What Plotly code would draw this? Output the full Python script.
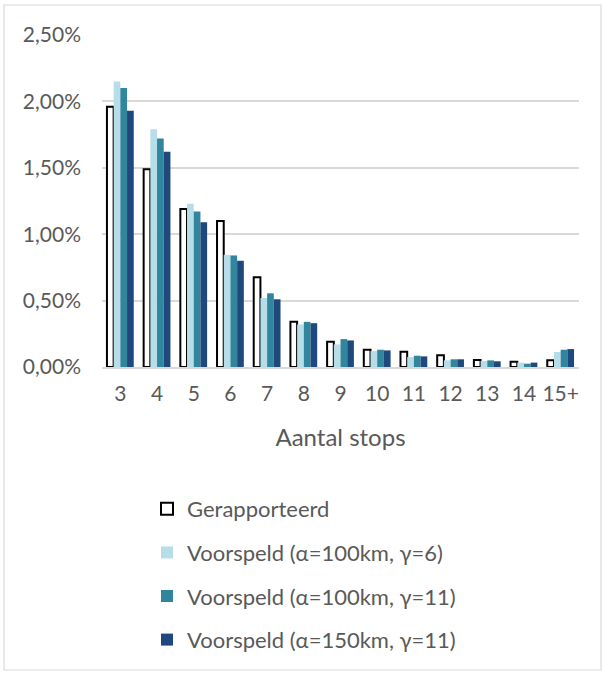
import plotly.graph_objects as go

categories = ["3", "4", "5", "6", "7", "8", "9", "10", "11", "12", "13", "14", "15+"]
gerapporteerd = [0.0196, 0.0149, 0.0119, 0.0110, 0.00675, 0.0034, 0.0019, 0.0013, 0.00115, 0.00088, 0.00053, 0.0004, 0.0005]
voorspeld_100_6 = [0.0215, 0.0179, 0.0123, 0.00845, 0.0052, 0.0032, 0.0017, 0.0012, 0.00075, 0.0005, 0.00045, 0.00033, 0.00113]
voorspeld_100_11 = [0.0210, 0.0172, 0.0117, 0.0084, 0.00555, 0.0034, 0.0021, 0.0013, 0.00085, 0.00058, 0.0005, 0.00025, 0.0013]
voorspeld_150_11 = [0.0193, 0.0162, 0.0109, 0.0080, 0.0051, 0.0033, 0.0020, 0.00125, 0.0008, 0.00058, 0.00043, 0.00033, 0.00135]

names = ["Gerapporteerd", "Voorspeld (α=100km, γ=6)", "Voorspeld (α=100km, γ=11)", "Voorspeld (α=150km, γ=11)"]
FONT = "Lato"
TXT = "#595959"

fig = go.Figure()
fig.add_trace(go.Bar(x=categories, y=gerapporteerd, name=names[0], legendgroup="a",
                     marker=dict(color="white", line=dict(color="black", width=2))))
fig.add_trace(go.Bar(x=categories, y=voorspeld_100_6, name=names[1], legendgroup="b",
                     marker=dict(color="#b7dde8", line=dict(width=0))))
fig.add_trace(go.Bar(x=categories, y=voorspeld_100_11, name=names[2], legendgroup="c",
                     marker=dict(color="#31859c", line=dict(width=0))))
fig.add_trace(go.Bar(x=categories, y=voorspeld_150_11, name=names[3], legendgroup="d",
                     marker=dict(color="#1f497d", line=dict(width=0))))

L, R, T, B = 102, 25, 35, 308
W, H = 604, 675
pw = W - L - R
ph = H - T - B

def px_x(p):
    return (p - L) / pw

def px_y(p):
    return (H - B - p) / ph

fig.update_layout(
    width=W, height=H,
    margin=dict(l=L, r=R, t=T, b=B, autoexpand=False),
    paper_bgcolor="white", plot_bgcolor="white",
    barmode="group", bargap=0.27, bargroupgap=0,
    separators=", ",
    font=dict(family=FONT, size=20, color=TXT),
    showlegend=True,
    legend=dict(x=px_x(147), y=px_y(488), xanchor="left", yanchor="top",
                orientation="v", tracegroupgap=12, font=dict(size=22, color=TXT),
                bgcolor="rgba(0,0,0,0)", itemsizing="constant"),
    xaxis=dict(
        showgrid=False, showline=True, linecolor="#d9d9d9", linewidth=1.5,
        ticks="outside", ticklen=7, tickcolor="rgba(0,0,0,0)",
        tickfont=dict(size=21, color=TXT),
        title=dict(text="Aantal stops", font=dict(size=24, color=TXT), standoff=25),
    ),
    yaxis=dict(
        range=[0, 0.025], dtick=0.005, tickformat=".2%",
        showgrid=True, gridcolor="#d9d9d9", gridwidth=1.5,
        zeroline=False, showline=False,
        ticklabelstandoff=20,
        tickfont=dict(size=21, color=TXT),
    ),
    shapes=[dict(type="rect", xref="paper", yref="paper",
                 x0=px_x(4), x1=px_x(601), y0=px_y(670), y1=px_y(5),
                 line=dict(color="#d9d9d9", width=1.2), fillcolor="rgba(0,0,0,0)", layer="below")],
)

fig.write_html("out.html", config={"displayModeBar": False},
               post_script="document.body.style.margin='0';")
